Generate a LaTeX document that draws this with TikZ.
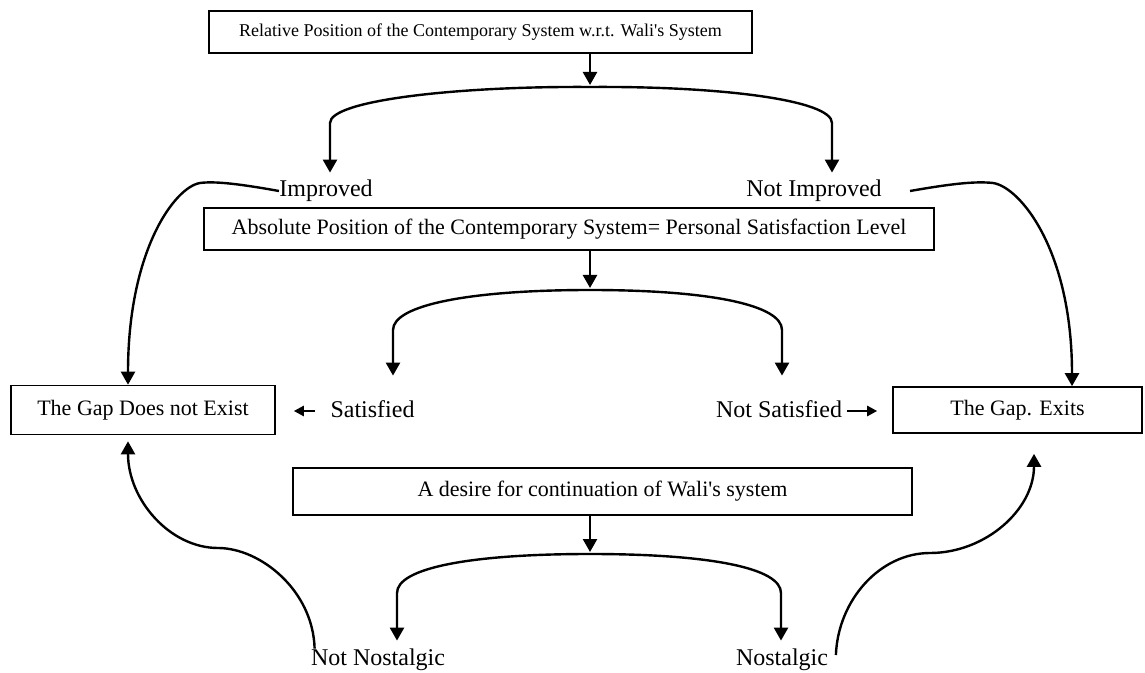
\documentclass[tikz,border=0pt]{standalone}
\usepackage{fontspec}
\setmainfont{Liberation Serif}
\usetikzlibrary{arrows.meta}

\begin{document}
\begin{tikzpicture}[>={Triangle[length=6.5pt,width=7pt]},x=0.5pt,y=-0.5pt,
  box/.style={draw,line width=0.8pt,inner sep=0pt,font=\fontsize{11}{13}\selectfont},
  lbl/.style={inner xsep=0pt,inner ysep=3.5pt,text height=8.5pt,text depth=2.5pt,font=\fontsize{12}{14}\selectfont},
  conn/.style={line width=1.2pt,->},
  small/.style={line width=1.2pt,-{Triangle[length=5pt,width=5pt]}}]

\useasboundingbox (0,0) rectangle (1145,673);

\node[box,minimum width=271.5pt,minimum height=21pt,font=\fontsize{9}{11}\selectfont] (rel) at (480.5,32) {Relative Position of the Contemporary System w.r.t. Wali\textquotesingle s System};
\node[box,minimum width=365pt,minimum height=21pt] (abs) at (569,229) {Absolute Position of the Contemporary System= Personal Satisfaction Level};
\node[box,minimum width=132pt,minimum height=24.5pt] (gapno) at (143,410) {The Gap Does not Exist};
\node[box,minimum width=124.5pt,minimum height=23pt] (gapyes) at (1017.5,410) {The Gap. Exits};
\node[box,minimum width=309.5pt,minimum height=23.5pt] (des) at (602.5,491.5) {A desire for continuation of Wali\textquotesingle s system};

\node[lbl] (imp) at (326,191) {Improved};
\node[lbl] (nimp) at (814,191) {Not Improved};
\node[lbl] (sat) at (372.5,411) {Satisfied};
\node[lbl] (nsat) at (779,411) {Not Satisfied};
\node[lbl] (nnos) at (378,659) {Not Nostalgic};
\node[lbl] (nos) at (782,659) {Nostalgic};

\coordinate (j1) at (590,87);
\coordinate (j2) at (590,290);
\coordinate (j3) at (590,554);

\draw[conn,shorten >=1pt] (rel.south -| j1) -- (j1);
\draw[conn] (j1) .. controls (460,86) and (330,100) .. (330,123) -- ([xshift=2pt]imp.north);
\draw[conn] (j1) .. controls (720,86) and (832,100) .. (832,123) -- ([xshift=9pt]nimp.north);

\draw[conn] (imp.west) .. controls (240,184) and (215,181) .. (200,183)
  .. controls (175,187) and (128,250) .. ([xshift=-7.5pt]gapno.north);
\draw[conn] ([xshift=14pt]nimp.east) .. controls (950,184) and (975,181) .. (993,183)
  .. controls (1020,187) and (1072,250) .. ([xshift=27.25pt]gapyes.north);

\draw[conn,shorten >=1pt] (abs.south -| j2) -- (j2);
\draw[conn] (j2) .. controls (470,290) and (393,305) .. (393,330) -- ([xshift=10.25pt,yshift=8.5pt]sat.north);
\draw[conn] (j2) .. controls (710,290) and (782,305) .. (782,330) -- ([xshift=1.5pt,yshift=8.5pt]nsat.north);

\draw[small,shorten <=7.5pt,shorten >=9pt] (sat.west) -- (sat.west -| gapno.east);
\draw[small,shorten <=2.5pt,shorten >=7.5pt] (nsat.east) -- (nsat.east -| gapyes.west);

\draw[conn,shorten >=1pt] (des.south -| j3) -- (j3);
\draw[conn] (j3) .. controls (470,554) and (397,568) .. (397,593) -- ([xshift=9.5pt]nnos.north);
\draw[conn] (j3) .. controls (710,554) and (781,568) .. (781,593) -- ([xshift=-0.5pt]nos.north);

\draw[conn,shorten >=3pt] ([xshift=2pt,yshift=-4pt]nnos.north west) .. controls (313,590) and (260,548) .. (218,548)
  .. controls (170,548) and (128,500) .. ([xshift=-7.5pt]gapno.south);
\draw[conn,shorten >=10pt] ([xshift=3.75pt,yshift=2pt]nos.east) .. controls (838,600) and (880,553) .. (930,553)
  .. controls (985,553) and (1034,510) .. ([xshift=8.25pt]gapyes.south);

\end{tikzpicture}
\end{document}
